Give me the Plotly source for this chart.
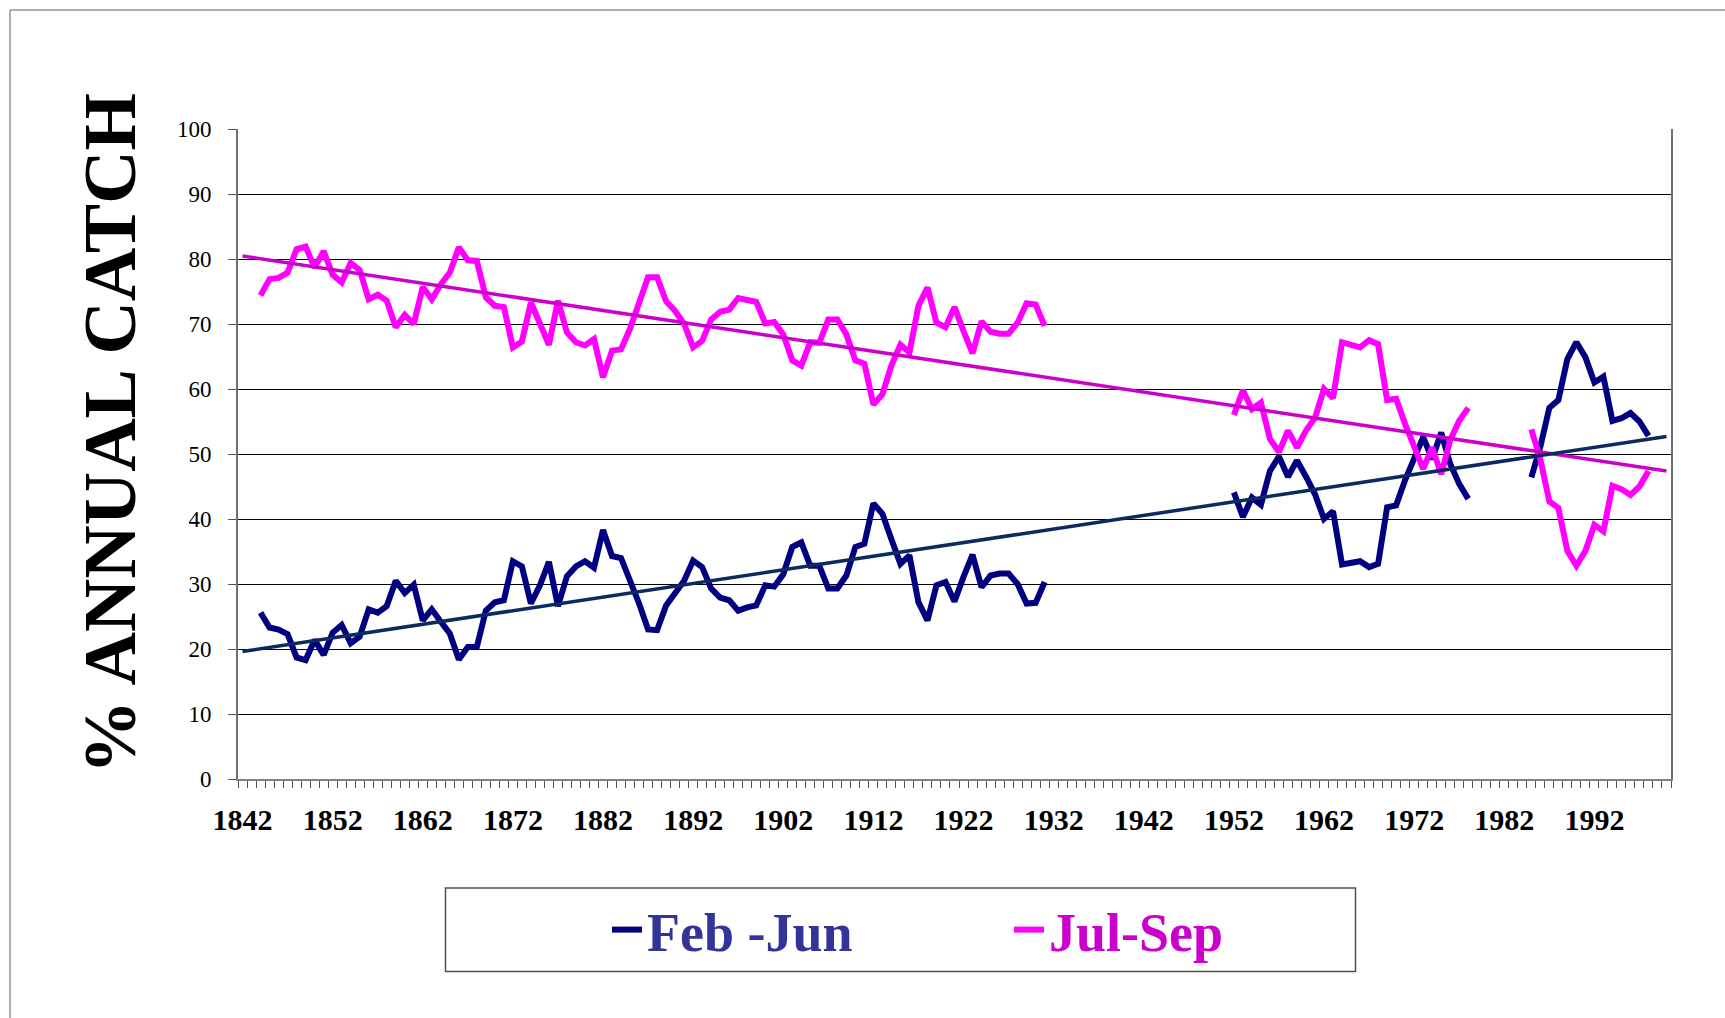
import numpy as np
import plotly.graph_objects as go

# ---------------- data ----------------
years_a = list(range(1844, 1932))
years_b = list(range(1952, 1979))
years_c = list(range(1985, 1999))

feb_jun_a = [25.6, 23.3, 23.0, 22.3, 18.7, 18.3, 21.4, 19.1, 22.5, 23.7,
             20.9, 21.9, 26.1, 25.6, 26.6, 30.5, 28.6, 29.9, 24.4, 26.1,
             24.2, 22.4, 18.4, 20.3, 20.3, 25.9, 27.2, 27.5, 33.5, 32.7,
             27.0, 29.8, 33.4, 26.6, 31.2, 32.7, 33.5, 32.5, 38.3, 34.3,
             34.0, 30.6, 27.0, 23.0, 22.9, 26.7, 28.5, 30.5, 33.6, 32.6,
             29.3, 27.9, 27.5, 25.9, 26.4, 26.7, 29.8, 29.6, 31.5, 35.7,
             36.4, 32.8, 32.8, 29.3, 29.3, 31.3, 35.7, 36.2, 42.4, 40.8,
             36.9, 33.1, 34.4, 27.2, 24.4, 29.8, 30.3, 27.3, 31.1, 34.5,
             29.5, 31.3, 31.6, 31.6, 30.0, 27.0, 27.1, 30.3]
feb_jun_b = [44.1, 40.3, 43.3, 42.2, 47.4, 49.6, 46.5, 49.0, 46.5, 43.8,
             40.0, 41.2, 33.0, 33.3, 33.5, 32.6, 33.1, 41.8, 42.1, 46.0,
             49.5, 52.6, 49.2, 53.3, 48.5, 45.4, 43.1]
feb_jun_c = [46.4, 51.1, 57.1, 58.3, 64.6, 67.2, 64.9, 61.0, 61.9, 55.1,
             55.5, 56.3, 55.0, 52.8]

jul_sep_a = [74.4, 76.9, 77.1, 77.9, 81.5, 81.9, 78.7, 81.2, 77.6, 76.4,
             79.4, 78.3, 73.8, 74.5, 73.6, 69.5, 71.4, 70.0, 75.7, 73.8,
             76.1, 77.9, 81.8, 79.8, 79.7, 74.1, 72.8, 72.6, 66.4, 67.3,
             73.3, 70.0, 66.8, 73.6, 68.7, 67.2, 66.7, 67.7, 61.8, 65.9,
             66.1, 69.3, 73.0, 77.2, 77.2, 73.5, 72.0, 70.0, 66.4, 67.4,
             70.7, 71.9, 72.2, 74.0, 73.7, 73.4, 70.1, 70.3, 68.4, 64.4,
             63.6, 67.2, 67.1, 70.7, 70.7, 68.4, 64.4, 63.9, 57.6, 59.2,
             63.6, 66.8, 65.6, 72.8, 75.6, 70.2, 69.5, 72.6, 68.9, 65.5,
             70.4, 68.8, 68.5, 68.5, 70.2, 73.2, 73.0, 69.7]
jul_sep_b = [56.0, 59.8, 56.9, 57.9, 52.3, 50.3, 53.6, 51.0, 53.6, 55.6,
             60.0, 58.6, 67.2, 66.7, 66.4, 67.5, 66.9, 58.3, 58.5, 54.6,
             50.9, 47.7, 51.0, 46.9, 52.1, 55.1, 57.1]
jul_sep_c = [53.8, 49.2, 42.7, 41.7, 35.1, 32.8, 35.1, 39.1, 38.1, 45.1,
             44.6, 43.7, 45.0, 47.4]

tick_years = list(range(1842, 1993, 10))
x_first, x_last = 1842, 2000
y_ticks = list(range(0, 101, 10))

# ---------------- layout constants ----------------
W, H = 1725, 1018
L, R, T, B = 238, 54, 129, 239
PW, PH = W - L - R, H - T - B
SERIF = "Liberation Serif, Times New Roman, serif"


def px_x(px):
    return (px - L) / PW


def px_y(py):
    return (H - B - py) / PH


def joined(xs_list, ys_list):
    xx, yy = [], []
    for i, (xs, ys) in enumerate(zip(xs_list, ys_list)):
        if i:
            xx.append(None)
            yy.append(None)
        xx += xs
        yy += ys
    return xx, yy


fx, fy = joined([years_a, years_b, years_c], [feb_jun_a, feb_jun_b, feb_jun_c])
jx, jy = joined([years_a, years_b, years_c], [jul_sep_a, jul_sep_b, jul_sep_c])


def trend(xs, ys):
    pts = [(a, b) for a, b in zip(xs, ys) if a is not None]
    k, c = np.polyfit([p[0] for p in pts], [p[1] for p in pts], 1)
    tx = [x_first, x_last]
    return tx, [k * t + c for t in tx]


ftx, fty = trend(fx, fy)
jtx, jty = trend(jx, jy)

fig = go.Figure()
fig.add_trace(go.Scatter(
    x=fx, y=fy, mode="lines", connectgaps=False,
    name='<span style="color:#333399">Feb -Jun</span>',
    line=dict(color="#000080", width=6)))
fig.add_trace(go.Scatter(
    x=jx, y=jy, mode="lines", connectgaps=False,
    name='<span style="color:#CC00CC">Jul-Sep</span>',
    line=dict(color="#FF00FF", width=6)))
fig.add_trace(go.Scatter(
    x=jtx, y=jty, mode="lines", showlegend=False,
    line=dict(color="#CC00CC", width=3.5)))
fig.add_trace(go.Scatter(
    x=ftx, y=fty, mode="lines", showlegend=False,
    line=dict(color="#0B2A5E", width=3.5)))

fig.update_layout(
    width=W, height=H, autosize=False,
    margin=dict(l=L, r=R, t=T, b=B, pad=0),
    paper_bgcolor="white", plot_bgcolor="white",
    font=dict(family=SERIF, color="black"),
    showlegend=True,
    legend=dict(
        orientation="h", x=px_x(607), xanchor="left",
        y=px_y(930), yanchor="middle",
        font=dict(family=SERIF, size=54, weight="bold"),
        bgcolor="rgba(0,0,0,0)", borderwidth=0,
        entrywidthmode="pixels", entrywidth=357,
        itemclick=False, itemdoubleclick=False,
    ),
    xaxis=dict(
        range=[x_first - 0.5, x_last + 0.5],
        tickmode="array", tickvals=tick_years,
        ticktext=[str(v) for v in tick_years],
        ticks="", showgrid=False, zeroline=False,
        showline=True, linecolor="#808080", linewidth=2,
        tickfont=dict(family=SERIF, size=30, weight="bold", color="black"),
        ticklabelstandoff=13,
        minor=dict(
            tickmode="array",
            tickvals=[v + 0.5 for v in range(x_first - 1, x_last + 1)],
            ticks="outside", ticklen=7, tickwidth=1, tickcolor="#555555",
            showgrid=False),
    ),
    yaxis=dict(
        range=[0, 100], tickmode="array", tickvals=y_ticks,
        ticks="outside", ticklen=8, tickwidth=1, tickcolor="#555555",
        showgrid=True, gridcolor="black", gridwidth=1,
        zeroline=False, showline=True, linecolor="#707070", linewidth=2,
        mirror=True,
        tickfont=dict(family=SERIF, size=23, color="black"),
        ticklabelstandoff=12,
    ),
    annotations=[dict(
        text="% ANNUAL CATCH", textangle=-90,
        xref="paper", yref="paper", x=px_x(110), y=px_y(434),
        xanchor="center", yanchor="middle", showarrow=False,
        font=dict(family=SERIF, size=74, weight="bold", color="black"),
    )],
    shapes=[
        # outer chart border (left & top visible)
        dict(type="line", xref="paper", yref="paper",
             x0=px_x(10), x1=px_x(W + 20), y0=px_y(10), y1=px_y(10),
             line=dict(color="#606060", width=1)),
        dict(type="line", xref="paper", yref="paper",
             x0=px_x(10), x1=px_x(10), y0=px_y(10), y1=px_y(H + 20),
             line=dict(color="#606060", width=1)),
        # legend box
        dict(type="rect", xref="paper", yref="paper",
             x0=px_x(445.5), x1=px_x(1355.5), y0=px_y(971.5), y1=px_y(888),
             line=dict(color="#505050", width=1.5), fillcolor="rgba(0,0,0,0)",
             layer="below"),
    ],
)

fig.write_html("out.html", config={"displayModeBar": False},
               post_script="document.body.style.margin='0';")
